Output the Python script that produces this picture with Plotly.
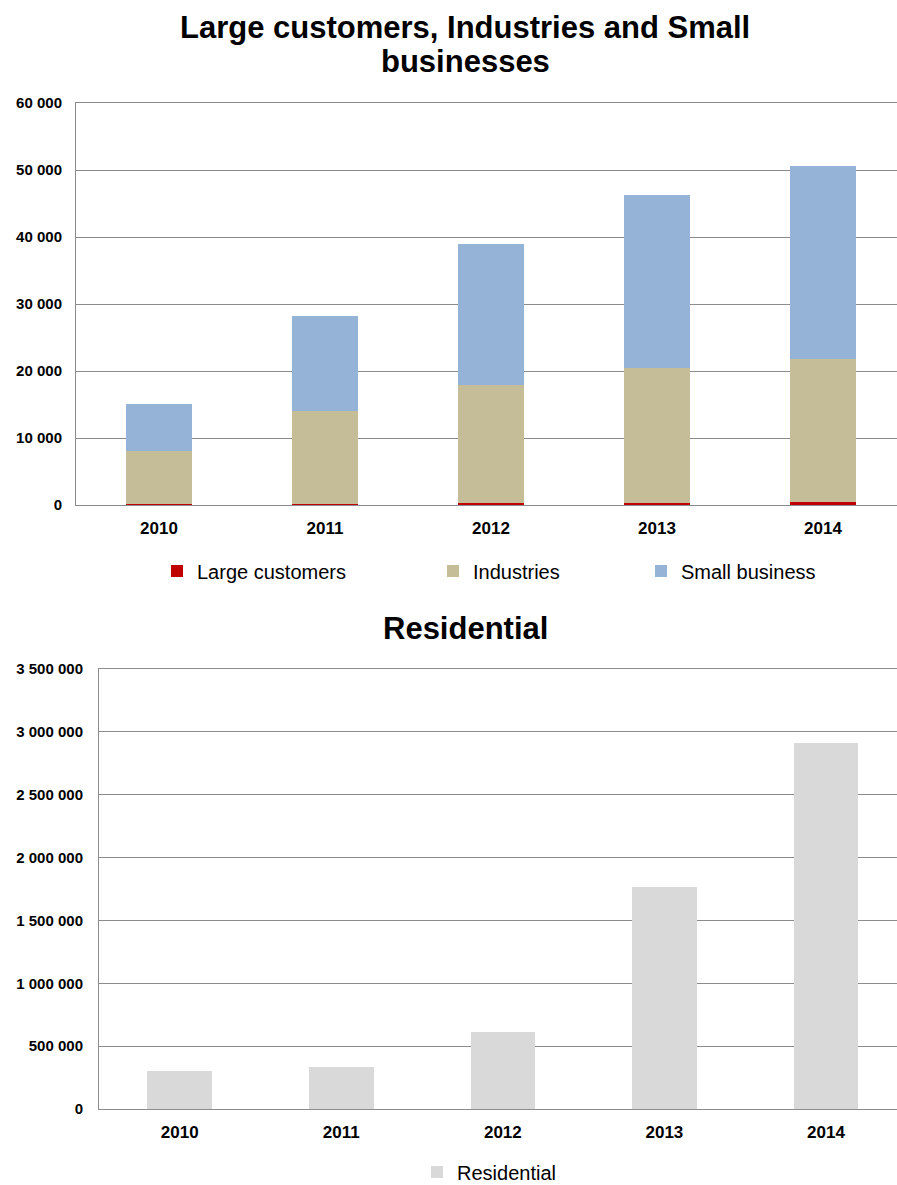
import plotly.graph_objects as go

years = ["2010", "2011", "2012", "2013", "2014"]
large_customers = [100, 200, 250, 300, 400]
industries = [7900, 13800, 17650, 20100, 21400]
small_business = [7150, 14200, 21100, 25900, 28800]
residential = [305000, 334000, 613000, 1764000, 2909000]

W, H = 897, 1185
FONT = "Liberation Sans, Arial, sans-serif"
GRID = "#8C8C8C"

fig = go.Figure()

fig.add_trace(go.Bar(x=years, y=large_customers, name="Large customers",
                     marker=dict(color="#C00000", line=dict(width=0)),
                     width=0.4, xaxis="x", yaxis="y", legend="legend"))
fig.add_trace(go.Bar(x=years, y=industries, name="Industries",
                     marker=dict(color="#C4BD97", line=dict(width=0)),
                     width=0.4, xaxis="x", yaxis="y", legend="legend2"))
fig.add_trace(go.Bar(x=years, y=small_business, name="Small business",
                     marker=dict(color="#95B3D7", line=dict(width=0)),
                     width=0.4, xaxis="x", yaxis="y", legend="legend3"))
fig.add_trace(go.Bar(x=years, y=residential, name="Residential",
                     marker=dict(color="#D9D9D9", line=dict(width=0)),
                     width=0.4, xaxis="x2", yaxis="y2", legend="legend4"))

def px_x(p):
    return p / W

def px_y(p):
    return 1 - p / H

axis_common = dict(showgrid=False, showline=True, linecolor=GRID, linewidth=1,
                   mirror=True, automargin=False,
                   ticks="", tickfont=dict(family=FONT, size=17, color="#000000",
                                           weight="bold"),
                   fixedrange=True)
yaxis_common = dict(showgrid=True, gridcolor=GRID, gridwidth=1, showline=True,
                    linecolor=GRID, linewidth=1, ticks="", zeroline=False,
                    tickformat=",d", automargin=False, fixedrange=True,
                    tickfont=dict(family=FONT, size=15, color="#000000",
                                  weight="bold"))

leg_common = dict(orientation="h", yanchor="middle", xanchor="left",
                  font=dict(family=FONT, size=20, color="#000000"),
                  bgcolor="rgba(0,0,0,0)", borderwidth=0)

title_font = dict(family=FONT, size=31, color="#000000")

fig.update_layout(
    width=W, height=H,
    margin=dict(l=0, r=0, t=0, b=0, autoexpand=False),
    paper_bgcolor="white", plot_bgcolor="white",
    barmode="stack",
    separators=", ",
    xaxis=dict(domain=[px_x(76), 1.0], anchor="y", range=[-0.5, 4.446],
               type="category", ticklabelstandoff=8, **axis_common),
    yaxis=dict(domain=[px_y(505), px_y(103)], anchor="x", range=[0, 60000],
               dtick=10000, ticklabelstandoff=10, **yaxis_common),
    xaxis2=dict(domain=[px_x(99), 1.0], anchor="y2", range=[-0.5, 4.44],
                type="category", ticklabelstandoff=8, **axis_common),
    yaxis2=dict(domain=[px_y(1109), px_y(669)], anchor="x2", range=[0, 3500000],
                dtick=500000, ticklabelstandoff=12, **yaxis_common),
    showlegend=True,
    legend=dict(x=px_x(197 - 40), y=px_y(571), **leg_common),
    legend2=dict(x=px_x(473 - 40), y=px_y(571), **leg_common),
    legend3=dict(x=px_x(681 - 40), y=px_y(571), **leg_common),
    legend4=dict(x=px_x(457 - 40), y=px_y(1172), **leg_common),
    annotations=[
        dict(text="<b>Large customers, Industries and Small</b>",
             x=px_x(465), y=px_y(27), xref="paper", yref="paper",
             xanchor="center", yanchor="middle", showarrow=False,
             font=title_font),
        dict(text="<b>businesses</b>",
             x=px_x(465), y=px_y(62), xref="paper", yref="paper",
             xanchor="center", yanchor="middle", showarrow=False,
             font=title_font),
        dict(text="<b>Residential</b>",
             x=px_x(465), y=px_y(628), xref="paper", yref="paper",
             xanchor="center", yanchor="middle", showarrow=False,
             font=title_font),
    ],
    font=dict(family=FONT),
)

fig.write_html(
    "out.html",
    config={"displayModeBar": False},
    post_script="document.body.style.margin='0';document.body.style.overflow='hidden';",
)
